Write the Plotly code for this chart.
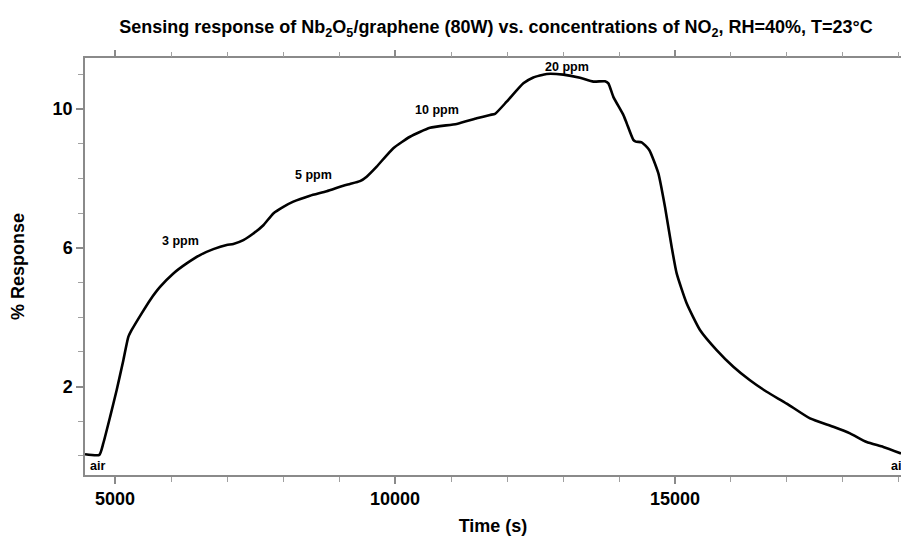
import plotly.graph_objects as go

# Data
time_s = [4464, 4720, 4790, 4911, 5030, 5149, 5238, 5298, 5476, 5625, 5804, 6042,
          6280, 6518, 6756, 6994, 7113, 7292, 7470, 7649, 7827, 8006, 8184, 8482,
          8780, 9077, 9196, 9375, 9494, 9673, 9970, 10268, 10625, 11102, 11459,
          11697, 11786, 11994, 12292, 12470, 12709, 13006, 13304, 13542, 13750,
          13810, 13899, 14077, 14137, 14256, 14300, 14405, 14540, 14702, 14821,
          14940, 15030, 15208, 15446, 15744, 16042, 16339, 16637, 16994, 17411,
          17827, 18125, 18423, 18720, 19036]
response = [0.05, 0.03, 0.36, 1.12, 1.90, 2.76, 3.43, 3.63, 4.11, 4.49, 4.87, 5.26,
            5.55, 5.79, 5.96, 6.08, 6.11, 6.22, 6.41, 6.65, 6.99, 7.18, 7.33, 7.50,
            7.63, 7.79, 7.84, 7.92, 8.05, 8.34, 8.87, 9.20, 9.46, 9.57, 9.73,
            9.83, 9.86, 10.21, 10.74, 10.91, 11.01, 10.99, 10.90, 10.79, 10.80,
            10.74, 10.35, 9.83, 9.59, 9.11, 9.06, 9.04, 8.82, 8.15, 7.18,
            6.03, 5.26, 4.40, 3.63, 3.05, 2.57, 2.18, 1.85, 1.51, 1.08,
            0.84, 0.65, 0.40, 0.26, 0.07]

label_texts = ["3 ppm", "5 ppm", "10 ppm", "20 ppm", "air", "air"]
label_x = [6161, 8542, 10744, 13066, 4518, 18821]
label_y = [6.2, 8.1, 9.97, 11.22, -0.3, -0.3]
label_anchor = ["center", "center", "center", "center", "left", "left"]

x_major_ticks = [5000, 10000, 15000]
x_major_labels = ["5000", "10000", "15000"]
y_major_ticks = [2, 6, 10]
y_major_labels = ["2", "6", "10"]

FONT = "Liberation Sans, Arial, sans-serif"
AXIS_GREY = "#8a8a8a"
MINOR_GREY = "#a0a0a0"

fig = go.Figure()
# invisible copy on the top axis so that the top tick marks get drawn
fig.add_trace(go.Scatter(
    x=time_s, y=response, mode="lines", xaxis="x2", yaxis="y",
    line=dict(color="rgba(0,0,0,0)", width=0),
    showlegend=False, hoverinfo="skip"))
fig.add_trace(go.Scatter(
    x=time_s, y=response, mode="lines",
    line=dict(color="black", width=2.6, shape="spline", smoothing=0.5),
    showlegend=False, hoverinfo="skip"))

for txt, xx, yy, anc in zip(label_texts, label_x, label_y, label_anchor):
    fig.add_annotation(x=xx, y=yy, xref="x", yref="y", text=txt, showarrow=False,
                       xanchor=anc, yanchor="middle",
                       font=dict(family=FONT, size=12.5, color="black", weight="bold"))

fig.update_layout(
    width=901, height=536,
    margin=dict(l=85, r=0, t=58, b=61, autoexpand=False),
    paper_bgcolor="white", plot_bgcolor="white",
    title=dict(
        text="Sensing response of Nb<sub>2</sub>O<sub>5</sub>/graphene (80W) vs. concentrations of NO<sub>2</sub>, RH=40%, T=23°C",
        x=496 / 901, xanchor="center", y=1 - 27 / 536, yanchor="middle", yref="container",
        font=dict(family=FONT, size=18, color="black", weight="bold")),
    xaxis=dict(
        range=[4464, 19036], tickmode="array", tickvals=x_major_ticks, ticktext=x_major_labels,
        ticks="outside", ticklen=7, tickcolor=AXIS_GREY, tickwidth=1.5,
        showline=True, linecolor=AXIS_GREY, linewidth=1.5, mirror=True,
        showgrid=False, zeroline=False, automargin=False,
        minor=dict(dtick=1000, tick0=0, ticks="outside", ticklen=5, tickcolor=MINOR_GREY, tickwidth=1.2, showgrid=False),
        tickfont=dict(family=FONT, size=18, color="black", weight="bold"),
        title=dict(text="Time (s)", standoff=20,
                   font=dict(family=FONT, size=18, color="black", weight="bold"))),
    xaxis2=dict(
        range=[4464, 19036], overlaying="x", side="top", anchor="y",
        tickmode="array", tickvals=x_major_ticks, showticklabels=False,
        ticks="outside", ticklen=7, tickcolor=AXIS_GREY, tickwidth=1.5,
        showline=False, showgrid=False, zeroline=False, automargin=False,
        minor=dict(dtick=1000, tick0=0, ticks="outside", ticklen=5, tickcolor=MINOR_GREY, tickwidth=1.2, showgrid=False)),
    yaxis=dict(
        range=[-0.55, 11.47], tickmode="array", tickvals=y_major_ticks, ticktext=y_major_labels,
        ticks="outside", ticklen=7, tickcolor=AXIS_GREY, tickwidth=1.5,
        showline=True, linecolor=AXIS_GREY, linewidth=1.5, mirror=False,
        showgrid=False, zeroline=False, automargin=False,
        minor=dict(dtick=1, tick0=0, ticks="outside", ticklen=5, tickcolor=MINOR_GREY, tickwidth=1.2, showgrid=False),
        tickfont=dict(family=FONT, size=18, color="black", weight="bold"),
        title=dict(text="% Response", standoff=23,
                   font=dict(family=FONT, size=18, color="black", weight="bold"))),
)

fig.write_html("out.html", config={"displayModeBar": False},
               post_script="document.body.style.margin='0';")
